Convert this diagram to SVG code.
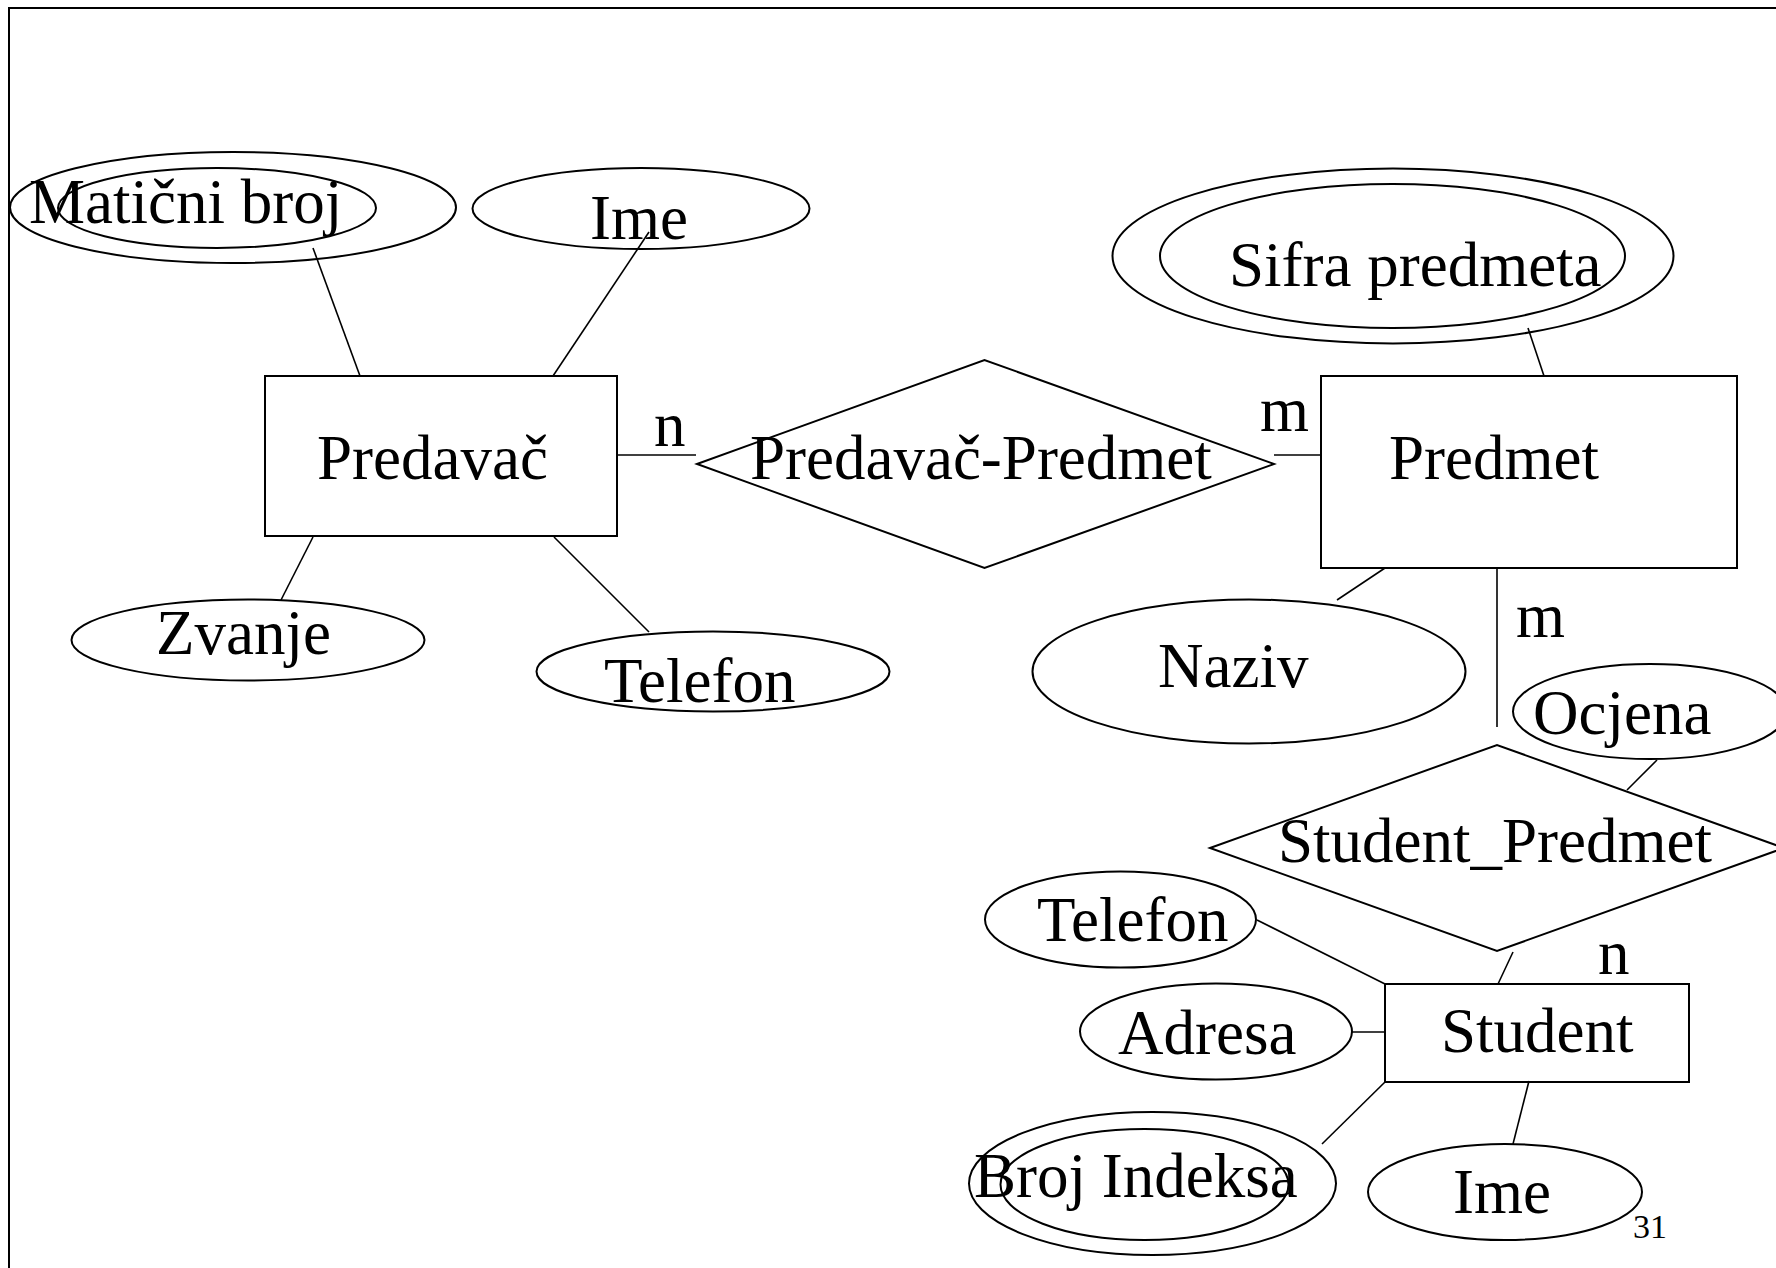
<svg xmlns="http://www.w3.org/2000/svg" width="1776" height="1268" viewBox="0 0 1776 1268">
  <style>
    .shape { fill: none; stroke: #000; stroke-width: 2; }
    .link { fill: none; stroke: #000; stroke-width: 1.6; }
    text { font-family: "Liberation Serif", "Times New Roman", serif; font-size: 63px; fill: #000; }
    .pg { font-size: 34px; }
  </style>
  <rect x="0" y="0" width="1776" height="1268" fill="#fff"/>
  <!-- slide frame -->
  <rect class="shape" x="9" y="8" width="1800" height="1300"/>

  <!-- connectors -->
  <g id="connectors">
    <line class="link" x1="313" y1="248" x2="360" y2="376"/>
    <line class="link" x1="649" y1="232" x2="553" y2="376"/>
    <line class="link" x1="313" y1="537" x2="281" y2="600"/>
    <line class="link" x1="554" y1="537" x2="649" y2="632"/>
    <line class="link" x1="617" y1="455" x2="696" y2="455"/>
    <line class="link" x1="1274" y1="455" x2="1321" y2="455"/>
    <line class="link" x1="1528" y1="328" x2="1544" y2="376"/>
    <line class="link" x1="1385" y1="568" x2="1337" y2="600"/>
    <line class="link" x1="1497" y1="568" x2="1497" y2="727"/>
    <line class="link" x1="1657" y1="760" x2="1627" y2="790"/>
    <line class="link" x1="1513" y1="952" x2="1498" y2="984"/>
    <line class="link" x1="1257" y1="920" x2="1385" y2="984"/>
    <line class="link" x1="1352" y1="1032" x2="1385" y2="1032"/>
    <line class="link" x1="1385" y1="1082" x2="1322" y2="1144"/>
    <line class="link" x1="1529" y1="1081" x2="1513" y2="1144"/>
    <text x="654" y="446">n</text>
    <text x="1260" y="431">m</text>
    <text x="1516" y="637">m</text>
    <text x="1598" y="974">n</text>
  </g>

  <!-- Predavač entity and attributes -->
  <g id="predavac">
    <rect class="shape" x="265" y="376" width="352" height="160"/>
    <text x="317" y="479">Predavač</text>
  </g>
  <g id="maticni-broj">
    <ellipse class="shape" cx="233" cy="207.5" rx="223" ry="55.5"/>
    <ellipse class="shape" cx="217" cy="208" rx="159" ry="40"/>
    <text x="29" y="223">Matični broj</text>
  </g>
  <g id="predavac-ime">
    <ellipse class="shape" cx="641" cy="208.5" rx="168.5" ry="40.5"/>
    <text x="590" y="239">Ime</text>
  </g>
  <g id="zvanje">
    <ellipse class="shape" cx="248" cy="640" rx="176.5" ry="40.5"/>
    <text x="156" y="654">Zvanje</text>
  </g>
  <g id="predavac-telefon">
    <ellipse class="shape" cx="713" cy="671.5" rx="176.5" ry="40"/>
    <text x="604" y="702">Telefon</text>
  </g>

  <!-- Predavač-Predmet relationship -->
  <g id="predavac-predmet">
    <polygon class="shape" points="697,464 984.5,360 1274,464 984.5,568"/>
    <text x="750" y="479">Predavač-Predmet</text>
  </g>

  <!-- Predmet entity and attributes -->
  <g id="predmet">
    <rect class="shape" x="1321" y="376" width="416" height="192"/>
    <text x="1389" y="479">Predmet</text>
  </g>
  <g id="sifra-predmeta">
    <ellipse class="shape" cx="1393" cy="256" rx="280.5" ry="87.5"/>
    <ellipse class="shape" cx="1392.5" cy="256" rx="232.5" ry="72"/>
    <text x="1229" y="286">Sifra predmeta</text>
  </g>
  <g id="naziv">
    <ellipse class="shape" cx="1249" cy="671.5" rx="216.5" ry="72"/>
    <text x="1158" y="687">Naziv</text>
  </g>

  <!-- Student_Predmet relationship -->
  <g id="student-predmet">
    <polygon class="shape" points="1210,848 1497,745 1784,848 1497,951"/>
    <text x="1278" y="862">Student_Predmet</text>
  </g>
  <g id="ocjena">
    <ellipse class="shape" cx="1650" cy="711.5" rx="137" ry="47.5"/>
    <text x="1533" y="734">Ocjena</text>
  </g>

  <!-- Student entity and attributes -->
  <g id="student">
    <rect class="shape" x="1385" y="984" width="304" height="98"/>
    <text x="1441" y="1052">Student</text>
  </g>
  <g id="student-telefon">
    <ellipse class="shape" cx="1120.5" cy="919.5" rx="135.5" ry="48"/>
    <text x="1037" y="941">Telefon</text>
  </g>
  <g id="adresa">
    <ellipse class="shape" cx="1216" cy="1031.5" rx="136" ry="48"/>
    <text x="1118" y="1054">Adresa</text>
  </g>
  <g id="broj-indeksa">
    <ellipse class="shape" cx="1152.5" cy="1183.5" rx="183.5" ry="71.5"/>
    <ellipse class="shape" cx="1144.5" cy="1184.5" rx="144" ry="55.5"/>
    <text x="974" y="1197">Broj Indeksa</text>
  </g>
  <g id="student-ime">
    <ellipse class="shape" cx="1505" cy="1192" rx="137" ry="48"/>
    <text x="1453" y="1213">Ime</text>
  </g>

  <!-- page number -->
  <text class="pg" x="1633" y="1238">31</text>
</svg>
